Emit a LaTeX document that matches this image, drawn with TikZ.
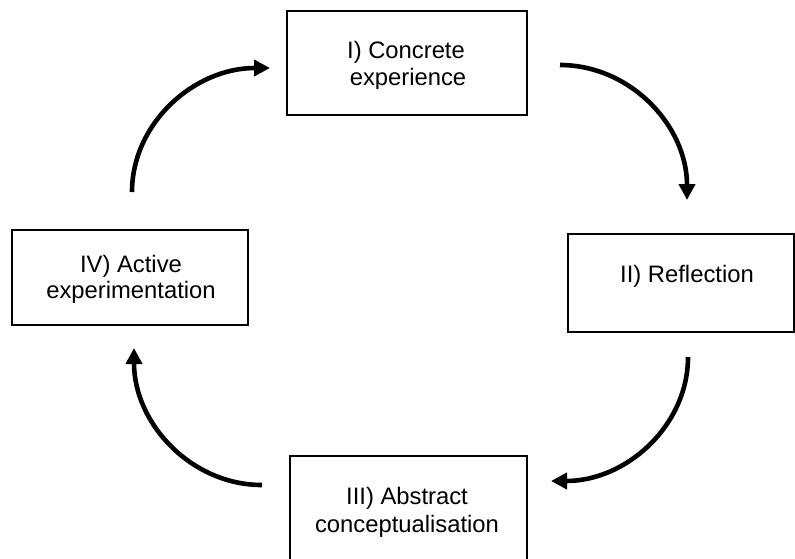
\documentclass[tikz,border=0pt]{standalone}
\usepackage{fontspec}
\setmainfont{Liberation Sans}
\usetikzlibrary{arrows.meta}
\begin{document}
\begin{tikzpicture}[x=1pt,y=-1pt,
  box/.style={draw, line width=1.4pt, inner sep=0pt, rectangle},
  lbl/.style={font=\fontsize{23.8}{27}\selectfont, anchor=base, inner sep=0pt},
  cyc/.style={line width=4.6pt, -{Triangle[length=16pt,width=16pt]}}]
\useasboundingbox (0,0) rectangle (795,558);
\clip (0,0) rectangle (795,558);
% boxes
\node[box, minimum width=240pt, minimum height=104pt] (b1) at (407,63) {};
\node[box, minimum width=226pt, minimum height=98pt] (b2) at (681,283) {};
\node[box, minimum width=237pt, minimum height=144pt] (b3) at (408.5,528) {};
\node[box, minimum width=236pt, minimum height=95pt] (b4) at (130,277.5) {};
% labels
\node[lbl] (t1a) at (406,58) {I) Concrete};
\begin{scope}
  \clip (287,11) rectangle (527,88);
  \node[lbl] (t1b) at (408,85) {experience};
\end{scope}
\node[lbl] (t2a) at (687,282) {II) Reflection};
\node[lbl] (t3a) at (407,504) {III) Abstract};
\begin{scope}
  \clip (290,456) rectangle (527,537);
  \node[lbl] (t3b) at (407,532) {conceptualisation};
\end{scope}
\node[lbl] (t4a) at (131,272) {IV) Active};
\node[lbl] (t4b) at (131,298) {experimentation};
% arrow ends
\coordinate (a1s) at (132,192);
\coordinate (a1e) at (270,68);
\coordinate (a2s) at (560,65);
\coordinate (a2e) at (687,200);
\coordinate (a3s) at (688,357);
\coordinate (a3e) at (551,481);
\coordinate (a4s) at (262,485);
\coordinate (a4e) at (134,348);
% cycle arrows
\draw[cyc] (a1s) .. controls (132,123.5) and (193.8,68) .. (a1e);
\draw[cyc] (a2s) .. controls (630,65) and (687,125.5) .. (a2e);
\draw[cyc] (a3s) .. controls (688,425.4) and (626.6,481) .. (a3e);
\draw[cyc] (a4s) .. controls (191.3,485) and (134,423.6) .. (a4e);
\end{tikzpicture}
\end{document}
